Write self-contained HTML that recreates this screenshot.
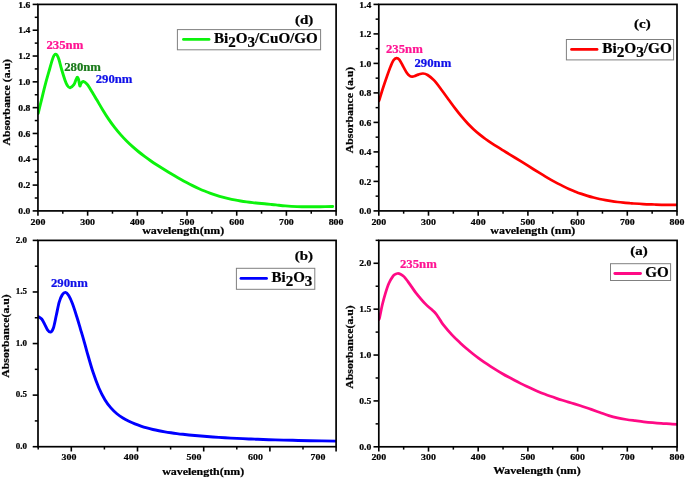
<!DOCTYPE html>
<html><head><meta charset="utf-8"><title>UV-Vis absorbance spectra</title>
<style>
html,body{margin:0;padding:0;background:#fff;}
text{stroke-width:0.22px;paint-order:stroke;}
svg{display:block;will-change:transform;font-family:"Liberation Serif", "Times New Roman", serif;font-weight:bold;}
</style></head><body>
<svg width="685" height="479" viewBox="0 0 685 479">
<rect width="685" height="479" fill="#fff"/>
<clipPath id="cp1"><rect x="37.95" y="4.4" width="298.15000000000003" height="206.5"/></clipPath>
<path clip-path="url(#cp1)" d="M38.20,113.40C38.75,111.13 40.30,104.68 41.50,99.80C42.70,94.92 44.02,89.32 45.40,84.10C46.78,78.88 48.67,72.48 49.80,68.50C50.93,64.52 51.60,62.17 52.20,60.20C52.80,58.23 53.02,57.58 53.40,56.70C53.78,55.82 54.13,55.31 54.50,54.90C54.87,54.49 55.23,54.27 55.60,54.25C55.97,54.23 56.33,54.42 56.70,54.80C57.07,55.17 57.40,55.63 57.80,56.50C58.20,57.37 58.43,57.75 59.10,60.00C59.77,62.25 60.82,66.63 61.80,70.00C62.78,73.37 64.08,77.63 65.00,80.20C65.92,82.77 66.47,84.15 67.30,85.40C68.13,86.65 68.90,87.83 70.00,87.70C71.10,87.57 72.90,85.95 73.90,84.60C74.90,83.25 75.43,80.82 76.00,79.60C76.57,78.38 76.87,77.32 77.30,77.30C77.73,77.28 78.18,78.05 78.60,79.50C79.02,80.95 79.37,85.42 79.80,86.00C80.23,86.58 80.62,83.75 81.20,83.00C81.78,82.25 82.35,81.35 83.30,81.50C84.25,81.65 85.68,82.57 86.90,83.90C88.12,85.23 88.98,86.86 90.60,89.46C92.22,92.07 94.60,96.15 96.60,99.52C98.60,102.89 100.60,106.43 102.60,109.69C104.60,112.96 106.60,116.16 108.60,119.12C110.60,122.07 112.60,124.83 114.60,127.42C116.60,130.01 118.60,132.39 120.60,134.66C122.60,136.93 124.60,139.02 126.60,141.02C128.60,143.02 130.60,144.88 132.60,146.67C134.60,148.46 136.60,150.13 138.60,151.75C140.60,153.37 142.60,154.90 144.60,156.39C146.60,157.88 148.60,159.30 150.60,160.69C152.60,162.09 154.60,163.43 156.60,164.74C158.60,166.06 160.60,167.34 162.60,168.60C164.60,169.85 166.60,171.08 168.60,172.29C170.60,173.50 172.60,174.69 174.60,175.86C176.60,177.02 178.60,178.17 180.60,179.28C182.60,180.40 184.60,181.49 186.60,182.55C188.60,183.60 190.60,184.63 192.60,185.61C194.60,186.60 196.60,187.55 198.60,188.45C200.60,189.35 202.60,190.22 204.60,191.03C206.60,191.85 208.60,192.63 210.60,193.35C212.60,194.08 214.60,194.76 216.60,195.40C218.60,196.03 220.60,196.62 222.60,197.17C224.60,197.71 226.60,198.21 228.60,198.68C230.60,199.14 232.60,199.56 234.60,199.94C236.60,200.33 238.60,200.67 240.60,200.99C242.60,201.31 244.60,201.59 246.60,201.85C248.60,202.11 250.60,202.35 252.60,202.57C254.60,202.80 256.60,203.00 258.60,203.20C260.60,203.41 262.60,203.60 264.60,203.79C266.60,203.99 268.70,204.19 270.60,204.38C272.50,204.56 273.53,204.65 276.00,204.91C278.47,205.16 281.90,205.62 285.40,205.90C288.90,206.18 293.12,206.45 297.00,206.60C300.88,206.75 304.80,206.78 308.70,206.80C312.60,206.82 316.40,206.75 320.40,206.70C324.40,206.65 330.65,206.53 332.70,206.50" fill="none" stroke="#0cf20c" stroke-width="2.9" stroke-linecap="round" stroke-linejoin="round"/>
<rect x="37.95" y="4.4" width="298.15000000000003" height="206.5" fill="none" stroke="#000" stroke-width="1.7"/>
<line x1="32.65" y1="210.90" x2="37.95" y2="210.90" stroke="#000" stroke-width="1.6" stroke-linecap="butt"/>
<text transform="translate(30.35,214.10) scale(1.07,1)" font-size="9.0" text-anchor="end" fill="#000" stroke="#000" >0.0</text>
<line x1="34.75" y1="197.99" x2="37.95" y2="197.99" stroke="#000" stroke-width="1.5" stroke-linecap="butt"/>
<line x1="32.65" y1="185.09" x2="37.95" y2="185.09" stroke="#000" stroke-width="1.6" stroke-linecap="butt"/>
<text transform="translate(30.35,188.29) scale(1.07,1)" font-size="9.0" text-anchor="end" fill="#000" stroke="#000" >0.2</text>
<line x1="34.75" y1="172.18" x2="37.95" y2="172.18" stroke="#000" stroke-width="1.5" stroke-linecap="butt"/>
<line x1="32.65" y1="159.28" x2="37.95" y2="159.28" stroke="#000" stroke-width="1.6" stroke-linecap="butt"/>
<text transform="translate(30.35,162.48) scale(1.07,1)" font-size="9.0" text-anchor="end" fill="#000" stroke="#000" >0.4</text>
<line x1="34.75" y1="146.37" x2="37.95" y2="146.37" stroke="#000" stroke-width="1.5" stroke-linecap="butt"/>
<line x1="32.65" y1="133.46" x2="37.95" y2="133.46" stroke="#000" stroke-width="1.6" stroke-linecap="butt"/>
<text transform="translate(30.35,136.66) scale(1.07,1)" font-size="9.0" text-anchor="end" fill="#000" stroke="#000" >0.6</text>
<line x1="34.75" y1="120.56" x2="37.95" y2="120.56" stroke="#000" stroke-width="1.5" stroke-linecap="butt"/>
<line x1="32.65" y1="107.65" x2="37.95" y2="107.65" stroke="#000" stroke-width="1.6" stroke-linecap="butt"/>
<text transform="translate(30.35,110.85) scale(1.07,1)" font-size="9.0" text-anchor="end" fill="#000" stroke="#000" >0.8</text>
<line x1="34.75" y1="94.75" x2="37.95" y2="94.75" stroke="#000" stroke-width="1.5" stroke-linecap="butt"/>
<line x1="32.65" y1="81.84" x2="37.95" y2="81.84" stroke="#000" stroke-width="1.6" stroke-linecap="butt"/>
<text transform="translate(30.35,85.04) scale(1.07,1)" font-size="9.0" text-anchor="end" fill="#000" stroke="#000" >1.0</text>
<line x1="34.75" y1="68.93" x2="37.95" y2="68.93" stroke="#000" stroke-width="1.5" stroke-linecap="butt"/>
<line x1="32.65" y1="56.03" x2="37.95" y2="56.03" stroke="#000" stroke-width="1.6" stroke-linecap="butt"/>
<text transform="translate(30.35,59.23) scale(1.07,1)" font-size="9.0" text-anchor="end" fill="#000" stroke="#000" >1.2</text>
<line x1="34.75" y1="43.12" x2="37.95" y2="43.12" stroke="#000" stroke-width="1.5" stroke-linecap="butt"/>
<line x1="32.65" y1="30.22" x2="37.95" y2="30.22" stroke="#000" stroke-width="1.6" stroke-linecap="butt"/>
<text transform="translate(30.35,33.42) scale(1.07,1)" font-size="9.0" text-anchor="end" fill="#000" stroke="#000" >1.4</text>
<line x1="34.75" y1="17.31" x2="37.95" y2="17.31" stroke="#000" stroke-width="1.5" stroke-linecap="butt"/>
<line x1="32.65" y1="4.40" x2="37.95" y2="4.40" stroke="#000" stroke-width="1.6" stroke-linecap="butt"/>
<text transform="translate(30.35,7.60) scale(1.07,1)" font-size="9.0" text-anchor="end" fill="#000" stroke="#000" >1.6</text>
<line x1="37.95" y1="210.90" x2="37.95" y2="215.70" stroke="#000" stroke-width="1.6" stroke-linecap="butt"/>
<line x1="62.80" y1="210.90" x2="62.80" y2="213.70" stroke="#000" stroke-width="1.5" stroke-linecap="butt"/>
<line x1="87.64" y1="210.90" x2="87.64" y2="215.70" stroke="#000" stroke-width="1.6" stroke-linecap="butt"/>
<line x1="112.48" y1="210.90" x2="112.48" y2="213.70" stroke="#000" stroke-width="1.5" stroke-linecap="butt"/>
<line x1="137.33" y1="210.90" x2="137.33" y2="215.70" stroke="#000" stroke-width="1.6" stroke-linecap="butt"/>
<line x1="162.18" y1="210.90" x2="162.18" y2="213.70" stroke="#000" stroke-width="1.5" stroke-linecap="butt"/>
<line x1="187.02" y1="210.90" x2="187.02" y2="215.70" stroke="#000" stroke-width="1.6" stroke-linecap="butt"/>
<line x1="211.87" y1="210.90" x2="211.87" y2="213.70" stroke="#000" stroke-width="1.5" stroke-linecap="butt"/>
<line x1="236.71" y1="210.90" x2="236.71" y2="215.70" stroke="#000" stroke-width="1.6" stroke-linecap="butt"/>
<line x1="261.56" y1="210.90" x2="261.56" y2="213.70" stroke="#000" stroke-width="1.5" stroke-linecap="butt"/>
<line x1="286.40" y1="210.90" x2="286.40" y2="215.70" stroke="#000" stroke-width="1.6" stroke-linecap="butt"/>
<line x1="311.25" y1="210.90" x2="311.25" y2="213.70" stroke="#000" stroke-width="1.5" stroke-linecap="butt"/>
<line x1="336.09" y1="210.90" x2="336.09" y2="215.70" stroke="#000" stroke-width="1.6" stroke-linecap="butt"/>
<text transform="translate(37.95,225.10) scale(1.1,1)" font-size="9.0" text-anchor="middle" fill="#000" stroke="#000" >200</text>
<text transform="translate(87.64,225.10) scale(1.1,1)" font-size="9.0" text-anchor="middle" fill="#000" stroke="#000" >300</text>
<text transform="translate(137.33,225.10) scale(1.1,1)" font-size="9.0" text-anchor="middle" fill="#000" stroke="#000" >400</text>
<text transform="translate(187.02,225.10) scale(1.1,1)" font-size="9.0" text-anchor="middle" fill="#000" stroke="#000" >500</text>
<text transform="translate(236.71,225.10) scale(1.1,1)" font-size="9.0" text-anchor="middle" fill="#000" stroke="#000" >600</text>
<text transform="translate(286.40,225.10) scale(1.1,1)" font-size="9.0" text-anchor="middle" fill="#000" stroke="#000" >700</text>
<text transform="translate(336.09,225.10) scale(1.1,1)" font-size="9.0" text-anchor="middle" fill="#000" stroke="#000" >800</text>
<text transform="translate(9.7,102.2) rotate(-90) scale(1.18,1)" font-size="10.0" text-anchor="middle" stroke="#000">Absorbance (a.u)</text>
<text transform="translate(183.20,233.80) scale(1.19,1)" font-size="10.0" text-anchor="middle" fill="#000" stroke="#000" >wavelength(nm)</text>
<text transform="translate(295.00,24.00) scale(1.2,1)" font-size="12.5" text-anchor="start" fill="#000" stroke="#000" >(d)</text>
<rect x="177.4" y="29.6" width="143.2" height="20.2" fill="#fff" stroke="#808080" stroke-width="1"/>
<line x1="183.5" y1="39.4" x2="209" y2="39.4" stroke="#0cf20c" stroke-width="2.9" stroke-linecap="round"/>
<text transform="translate(213.9,43.4) scale(1.04,1)" font-size="14.5" text-anchor="start" stroke="#000">Bi<tspan dy="3.8">2</tspan><tspan dy="-3.8">O</tspan><tspan dy="3.8">3</tspan><tspan dy="-3.8">/CuO/GO</tspan></text>
<text transform="translate(46.50,48.50) scale(1.08,1)" font-size="11.8" text-anchor="start" fill="#ff1493" stroke="#ff1493" >235nm</text>
<text transform="translate(64.20,71.20) scale(1.08,1)" font-size="11.8" text-anchor="start" fill="#1a7a1a" stroke="#1a7a1a" >280nm</text>
<text transform="translate(95.70,83.00) scale(1.08,1)" font-size="11.8" text-anchor="start" fill="#1010e8" stroke="#1010e8" >290nm</text>
<clipPath id="cp2"><rect x="378.8" y="4.4" width="298.2" height="206.5"/></clipPath>
<path clip-path="url(#cp2)" d="M379.00,100.80C379.10,100.50 378.93,101.13 379.60,99.00C380.27,96.87 381.77,91.80 383.00,88.00C384.23,84.20 385.72,79.83 387.00,76.20C388.28,72.57 389.62,68.85 390.70,66.20C391.78,63.55 392.55,61.65 393.50,60.30C394.45,58.95 395.40,58.17 396.40,58.10C397.40,58.03 398.33,58.43 399.50,59.90C400.67,61.37 402.10,64.62 403.40,66.90C404.70,69.18 406.27,72.12 407.30,73.60C408.33,75.08 408.78,75.30 409.60,75.80C410.42,76.30 411.27,76.58 412.20,76.60C413.13,76.62 414.18,76.23 415.20,75.90C416.22,75.57 417.00,75.00 418.30,74.60C419.60,74.20 421.45,73.43 423.00,73.50C424.55,73.57 425.78,73.88 427.60,75.00C429.42,76.12 431.53,77.67 433.90,80.20C436.27,82.73 439.20,86.77 441.80,90.20C444.40,93.63 447.22,97.67 449.50,100.79C451.78,103.91 453.50,106.30 455.50,108.91C457.50,111.52 459.50,114.08 461.50,116.47C463.50,118.86 465.50,121.14 467.50,123.27C469.50,125.39 471.50,127.37 473.50,129.23C475.50,131.08 477.50,132.78 479.50,134.40C481.50,136.03 483.50,137.52 485.50,138.97C487.50,140.42 489.50,141.77 491.50,143.10C493.50,144.43 495.50,145.70 497.50,146.96C499.50,148.23 501.50,149.45 503.50,150.68C505.50,151.91 507.50,153.11 509.50,154.34C511.50,155.56 513.50,156.78 515.50,158.01C517.50,159.24 519.50,160.47 521.50,161.72C523.50,162.96 525.50,164.22 527.50,165.47C529.50,166.73 531.50,167.99 533.50,169.24C535.50,170.49 537.50,171.74 539.50,172.97C541.50,174.19 543.50,175.41 545.50,176.59C547.50,177.78 549.50,178.94 551.50,180.07C553.50,181.19 555.50,182.29 557.50,183.34C559.50,184.39 561.50,185.41 563.50,186.38C565.50,187.35 567.50,188.28 569.50,189.17C571.50,190.05 573.50,190.89 575.50,191.68C577.50,192.47 579.50,193.21 581.50,193.90C583.50,194.60 585.50,195.25 587.50,195.85C589.50,196.45 591.50,197.01 593.50,197.53C595.50,198.04 597.50,198.51 599.50,198.95C601.50,199.39 603.50,199.78 605.50,200.15C607.50,200.51 609.50,200.84 611.50,201.14C613.50,201.45 615.50,201.72 617.50,201.97C619.50,202.22 621.50,202.44 623.50,202.65C625.50,202.85 628.12,203.08 629.50,203.20C630.88,203.32 629.53,203.23 631.80,203.38C634.07,203.53 639.33,203.91 643.10,204.10C646.87,204.29 650.63,204.38 654.40,204.50C658.17,204.62 661.85,204.75 665.70,204.80C669.55,204.85 675.53,204.80 677.50,204.80" fill="none" stroke="#ff0000" stroke-width="2.7" stroke-linecap="round" stroke-linejoin="round"/>
<rect x="378.8" y="4.4" width="298.2" height="206.5" fill="none" stroke="#000" stroke-width="1.7"/>
<line x1="373.50" y1="210.90" x2="378.80" y2="210.90" stroke="#000" stroke-width="1.6" stroke-linecap="butt"/>
<text transform="translate(371.20,214.10) scale(1.07,1)" font-size="9.0" text-anchor="end" fill="#000" stroke="#000" >0.0</text>
<line x1="375.60" y1="196.15" x2="378.80" y2="196.15" stroke="#000" stroke-width="1.5" stroke-linecap="butt"/>
<line x1="373.50" y1="181.40" x2="378.80" y2="181.40" stroke="#000" stroke-width="1.6" stroke-linecap="butt"/>
<text transform="translate(371.20,184.60) scale(1.07,1)" font-size="9.0" text-anchor="end" fill="#000" stroke="#000" >0.2</text>
<line x1="375.60" y1="166.65" x2="378.80" y2="166.65" stroke="#000" stroke-width="1.5" stroke-linecap="butt"/>
<line x1="373.50" y1="151.90" x2="378.80" y2="151.90" stroke="#000" stroke-width="1.6" stroke-linecap="butt"/>
<text transform="translate(371.20,155.10) scale(1.07,1)" font-size="9.0" text-anchor="end" fill="#000" stroke="#000" >0.4</text>
<line x1="375.60" y1="137.15" x2="378.80" y2="137.15" stroke="#000" stroke-width="1.5" stroke-linecap="butt"/>
<line x1="373.50" y1="122.40" x2="378.80" y2="122.40" stroke="#000" stroke-width="1.6" stroke-linecap="butt"/>
<text transform="translate(371.20,125.60) scale(1.07,1)" font-size="9.0" text-anchor="end" fill="#000" stroke="#000" >0.6</text>
<line x1="375.60" y1="107.65" x2="378.80" y2="107.65" stroke="#000" stroke-width="1.5" stroke-linecap="butt"/>
<line x1="373.50" y1="92.90" x2="378.80" y2="92.90" stroke="#000" stroke-width="1.6" stroke-linecap="butt"/>
<text transform="translate(371.20,96.10) scale(1.07,1)" font-size="9.0" text-anchor="end" fill="#000" stroke="#000" >0.8</text>
<line x1="375.60" y1="78.15" x2="378.80" y2="78.15" stroke="#000" stroke-width="1.5" stroke-linecap="butt"/>
<line x1="373.50" y1="63.40" x2="378.80" y2="63.40" stroke="#000" stroke-width="1.6" stroke-linecap="butt"/>
<text transform="translate(371.20,66.60) scale(1.07,1)" font-size="9.0" text-anchor="end" fill="#000" stroke="#000" >1.0</text>
<line x1="375.60" y1="48.65" x2="378.80" y2="48.65" stroke="#000" stroke-width="1.5" stroke-linecap="butt"/>
<line x1="373.50" y1="33.90" x2="378.80" y2="33.90" stroke="#000" stroke-width="1.6" stroke-linecap="butt"/>
<text transform="translate(371.20,37.10) scale(1.07,1)" font-size="9.0" text-anchor="end" fill="#000" stroke="#000" >1.2</text>
<line x1="375.60" y1="19.15" x2="378.80" y2="19.15" stroke="#000" stroke-width="1.5" stroke-linecap="butt"/>
<line x1="373.50" y1="4.40" x2="378.80" y2="4.40" stroke="#000" stroke-width="1.6" stroke-linecap="butt"/>
<text transform="translate(371.20,7.60) scale(1.07,1)" font-size="9.0" text-anchor="end" fill="#000" stroke="#000" >1.4</text>
<line x1="378.80" y1="210.90" x2="378.80" y2="215.70" stroke="#000" stroke-width="1.6" stroke-linecap="butt"/>
<line x1="403.65" y1="210.90" x2="403.65" y2="213.70" stroke="#000" stroke-width="1.5" stroke-linecap="butt"/>
<line x1="428.50" y1="210.90" x2="428.50" y2="215.70" stroke="#000" stroke-width="1.6" stroke-linecap="butt"/>
<line x1="453.35" y1="210.90" x2="453.35" y2="213.70" stroke="#000" stroke-width="1.5" stroke-linecap="butt"/>
<line x1="478.20" y1="210.90" x2="478.20" y2="215.70" stroke="#000" stroke-width="1.6" stroke-linecap="butt"/>
<line x1="503.05" y1="210.90" x2="503.05" y2="213.70" stroke="#000" stroke-width="1.5" stroke-linecap="butt"/>
<line x1="527.90" y1="210.90" x2="527.90" y2="215.70" stroke="#000" stroke-width="1.6" stroke-linecap="butt"/>
<line x1="552.75" y1="210.90" x2="552.75" y2="213.70" stroke="#000" stroke-width="1.5" stroke-linecap="butt"/>
<line x1="577.60" y1="210.90" x2="577.60" y2="215.70" stroke="#000" stroke-width="1.6" stroke-linecap="butt"/>
<line x1="602.45" y1="210.90" x2="602.45" y2="213.70" stroke="#000" stroke-width="1.5" stroke-linecap="butt"/>
<line x1="627.30" y1="210.90" x2="627.30" y2="215.70" stroke="#000" stroke-width="1.6" stroke-linecap="butt"/>
<line x1="652.15" y1="210.90" x2="652.15" y2="213.70" stroke="#000" stroke-width="1.5" stroke-linecap="butt"/>
<line x1="677.00" y1="210.90" x2="677.00" y2="215.70" stroke="#000" stroke-width="1.6" stroke-linecap="butt"/>
<text transform="translate(378.80,225.10) scale(1.1,1)" font-size="9.0" text-anchor="middle" fill="#000" stroke="#000" >200</text>
<text transform="translate(428.50,225.10) scale(1.1,1)" font-size="9.0" text-anchor="middle" fill="#000" stroke="#000" >300</text>
<text transform="translate(478.20,225.10) scale(1.1,1)" font-size="9.0" text-anchor="middle" fill="#000" stroke="#000" >400</text>
<text transform="translate(527.90,225.10) scale(1.1,1)" font-size="9.0" text-anchor="middle" fill="#000" stroke="#000" >500</text>
<text transform="translate(577.60,225.10) scale(1.1,1)" font-size="9.0" text-anchor="middle" fill="#000" stroke="#000" >600</text>
<text transform="translate(627.30,225.10) scale(1.1,1)" font-size="9.0" text-anchor="middle" fill="#000" stroke="#000" >700</text>
<text transform="translate(677.00,225.10) scale(1.1,1)" font-size="9.0" text-anchor="middle" fill="#000" stroke="#000" >800</text>
<text transform="translate(352.6,110.0) rotate(-90) scale(1.18,1)" font-size="10.0" text-anchor="middle" stroke="#000">Absorbance (a.u)</text>
<text transform="translate(532.80,233.80) scale(1.19,1)" font-size="10.0" text-anchor="middle" fill="#000" stroke="#000" >wavelength (nm)</text>
<text transform="translate(634.00,28.00) scale(1.2,1)" font-size="12.5" text-anchor="start" fill="#000" stroke="#000" >(c)</text>
<rect x="566.4" y="39.5" width="107.2" height="20.4" fill="#fff" stroke="#808080" stroke-width="1"/>
<line x1="571.6" y1="49.4" x2="597" y2="49.4" stroke="#ff0000" stroke-width="2.9" stroke-linecap="round"/>
<text transform="translate(602.2,53.4) scale(1.055,1)" font-size="14.5" text-anchor="start" stroke="#000">Bi<tspan dy="3.8">2</tspan><tspan dy="-3.8">O</tspan><tspan dy="3.8">3</tspan><tspan dy="-3.8">/GO</tspan></text>
<text transform="translate(386.00,52.50) scale(1.08,1)" font-size="11.8" text-anchor="start" fill="#ff1493" stroke="#ff1493" >235nm</text>
<text transform="translate(414.50,67.00) scale(1.08,1)" font-size="11.8" text-anchor="start" fill="#1010e8" stroke="#1010e8" >290nm</text>
<clipPath id="cp3"><rect x="38.0" y="240.4" width="298.1" height="206.29999999999998"/></clipPath>
<path clip-path="url(#cp3)" d="M38.30,316.60C38.87,317.00 40.65,317.75 41.70,319.00C42.75,320.25 43.63,322.30 44.60,324.10C45.57,325.90 46.52,328.47 47.50,329.80C48.48,331.13 49.52,332.40 50.50,332.10C51.48,331.80 52.43,330.80 53.40,328.00C54.37,325.20 55.33,319.60 56.30,315.30C57.27,311.00 58.22,305.60 59.20,302.20C60.18,298.80 61.15,296.53 62.20,294.90C63.25,293.27 64.42,292.28 65.50,292.40C66.58,292.52 67.55,293.73 68.70,295.60C69.85,297.47 71.05,300.07 72.40,303.60C73.75,307.13 75.47,312.60 76.80,316.80C78.13,321.00 79.27,325.00 80.40,328.80C81.53,332.60 82.52,335.81 83.60,339.60C84.68,343.39 85.35,346.18 86.90,351.55C88.45,356.92 90.90,365.75 92.90,371.82C94.90,377.88 96.90,383.31 98.90,387.95C100.90,392.59 102.90,396.32 104.90,399.64C106.90,402.97 108.90,405.55 110.90,407.90C112.90,410.25 114.90,412.06 116.90,413.74C118.90,415.43 120.90,416.75 122.90,418.00C124.90,419.25 126.90,420.28 128.90,421.27C130.90,422.25 132.90,423.11 134.90,423.91C136.90,424.72 138.90,425.44 140.90,426.11C142.90,426.78 144.90,427.38 146.90,427.94C148.90,428.50 150.90,429.00 152.90,429.47C154.90,429.94 156.90,430.35 158.90,430.75C160.90,431.14 162.90,431.49 164.90,431.83C166.90,432.17 168.90,432.47 170.90,432.76C172.90,433.05 174.90,433.32 176.90,433.57C178.90,433.83 180.90,434.07 182.90,434.29C184.90,434.52 186.90,434.74 188.90,434.94C190.90,435.15 192.90,435.34 194.90,435.53C196.90,435.72 198.90,435.89 200.90,436.06C202.90,436.23 204.90,436.39 206.90,436.55C208.90,436.70 210.90,436.85 212.90,436.99C214.90,437.13 216.90,437.26 218.90,437.39C220.90,437.51 222.90,437.63 224.90,437.75C226.90,437.87 228.90,437.98 230.90,438.08C232.90,438.19 234.90,438.29 236.90,438.39C238.90,438.49 240.90,438.58 242.90,438.67C244.90,438.76 246.90,438.85 248.90,438.93C250.90,439.02 253.43,439.12 254.90,439.17C256.37,439.23 254.32,439.16 257.70,439.28C261.08,439.40 269.37,439.73 275.20,439.90C281.03,440.07 286.87,440.17 292.70,440.30C298.53,440.43 302.90,440.57 310.20,440.70C317.50,440.83 332.12,441.03 336.50,441.10" fill="none" stroke="#0000ff" stroke-width="2.9" stroke-linecap="round" stroke-linejoin="round"/>
<rect x="38.0" y="240.4" width="298.1" height="206.29999999999998" fill="none" stroke="#000" stroke-width="1.7"/>
<line x1="32.70" y1="446.70" x2="38.00" y2="446.70" stroke="#000" stroke-width="1.6" stroke-linecap="butt"/>
<text transform="translate(27.00,449.00) scale(1.0,1)" font-size="9.0" text-anchor="end" fill="#000" stroke="#000" >0.0</text>
<line x1="34.80" y1="420.91" x2="38.00" y2="420.91" stroke="#000" stroke-width="1.5" stroke-linecap="butt"/>
<line x1="32.70" y1="395.12" x2="38.00" y2="395.12" stroke="#000" stroke-width="1.6" stroke-linecap="butt"/>
<text transform="translate(27.00,397.43) scale(1.0,1)" font-size="9.0" text-anchor="end" fill="#000" stroke="#000" >0.5</text>
<line x1="34.80" y1="369.34" x2="38.00" y2="369.34" stroke="#000" stroke-width="1.5" stroke-linecap="butt"/>
<line x1="32.70" y1="343.55" x2="38.00" y2="343.55" stroke="#000" stroke-width="1.6" stroke-linecap="butt"/>
<text transform="translate(27.00,345.85) scale(1.0,1)" font-size="9.0" text-anchor="end" fill="#000" stroke="#000" >1.0</text>
<line x1="34.80" y1="317.76" x2="38.00" y2="317.76" stroke="#000" stroke-width="1.5" stroke-linecap="butt"/>
<line x1="32.70" y1="291.97" x2="38.00" y2="291.97" stroke="#000" stroke-width="1.6" stroke-linecap="butt"/>
<text transform="translate(27.00,294.27) scale(1.0,1)" font-size="9.0" text-anchor="end" fill="#000" stroke="#000" >1.5</text>
<line x1="34.80" y1="266.19" x2="38.00" y2="266.19" stroke="#000" stroke-width="1.5" stroke-linecap="butt"/>
<line x1="32.70" y1="240.40" x2="38.00" y2="240.40" stroke="#000" stroke-width="1.6" stroke-linecap="butt"/>
<text transform="translate(27.00,242.70) scale(1.0,1)" font-size="9.0" text-anchor="end" fill="#000" stroke="#000" >2.0</text>
<line x1="38.20" y1="446.70" x2="38.20" y2="449.50" stroke="#000" stroke-width="1.5" stroke-linecap="butt"/>
<line x1="71.30" y1="446.70" x2="71.30" y2="451.50" stroke="#000" stroke-width="1.6" stroke-linecap="butt"/>
<line x1="104.40" y1="446.70" x2="104.40" y2="449.50" stroke="#000" stroke-width="1.5" stroke-linecap="butt"/>
<line x1="137.50" y1="446.70" x2="137.50" y2="451.50" stroke="#000" stroke-width="1.6" stroke-linecap="butt"/>
<line x1="170.60" y1="446.70" x2="170.60" y2="449.50" stroke="#000" stroke-width="1.5" stroke-linecap="butt"/>
<line x1="203.70" y1="446.70" x2="203.70" y2="451.50" stroke="#000" stroke-width="1.6" stroke-linecap="butt"/>
<line x1="236.80" y1="446.70" x2="236.80" y2="449.50" stroke="#000" stroke-width="1.5" stroke-linecap="butt"/>
<line x1="269.90" y1="446.70" x2="269.90" y2="451.50" stroke="#000" stroke-width="1.6" stroke-linecap="butt"/>
<line x1="303.00" y1="446.70" x2="303.00" y2="449.50" stroke="#000" stroke-width="1.5" stroke-linecap="butt"/>
<line x1="336.10" y1="446.70" x2="336.10" y2="451.50" stroke="#000" stroke-width="1.6" stroke-linecap="butt"/>
<text transform="translate(69.00,460.30) scale(1.1,1)" font-size="9.0" text-anchor="middle" fill="#000" stroke="#000" >300</text>
<text transform="translate(131.20,460.30) scale(1.1,1)" font-size="9.0" text-anchor="middle" fill="#000" stroke="#000" >400</text>
<text transform="translate(194.00,460.30) scale(1.1,1)" font-size="9.0" text-anchor="middle" fill="#000" stroke="#000" >500</text>
<text transform="translate(255.50,460.30) scale(1.1,1)" font-size="9.0" text-anchor="middle" fill="#000" stroke="#000" >600</text>
<text transform="translate(318.00,460.30) scale(1.1,1)" font-size="9.0" text-anchor="middle" fill="#000" stroke="#000" >700</text>
<text transform="translate(9.4,336.0) rotate(-90) scale(1.18,1)" font-size="10" text-anchor="middle" stroke="#000">Absorbance(a.u)</text>
<text transform="translate(203.20,474.90) scale(1.19,1)" font-size="10.0" text-anchor="middle" fill="#000" stroke="#000" >wavelength(nm)</text>
<text transform="translate(294.70,260.40) scale(1.2,1)" font-size="12.5" text-anchor="start" fill="#000" stroke="#000" >(b)</text>
<rect x="236.4" y="268.3" width="78.4" height="21" fill="#fff" stroke="#808080" stroke-width="1"/>
<line x1="241" y1="278.4" x2="266.5" y2="278.4" stroke="#0000ff" stroke-width="2.9" stroke-linecap="round"/>
<text transform="translate(271.5,282.4) scale(1.035,1)" font-size="14.5" text-anchor="start" stroke="#000">Bi<tspan dy="3.8">2</tspan><tspan dy="-3.8">O</tspan><tspan dy="3.8">3</tspan></text>
<text transform="translate(51.00,286.70) scale(1.08,1)" font-size="11.8" text-anchor="start" fill="#1010e8" stroke="#1010e8" >290nm</text>
<clipPath id="cp4"><rect x="378.8" y="240.4" width="298.3" height="206.4"/></clipPath>
<path clip-path="url(#cp4)" d="M379.00,319.50C379.13,319.03 379.25,319.15 379.80,316.70C380.35,314.25 381.37,308.70 382.30,304.80C383.23,300.90 384.30,296.90 385.40,293.30C386.50,289.70 387.68,285.98 388.90,283.20C390.12,280.42 391.65,278.08 392.70,276.60C393.75,275.12 394.38,274.82 395.20,274.30C396.02,273.78 396.70,273.52 397.60,273.50C398.50,273.48 399.53,273.68 400.60,274.20C401.67,274.72 402.80,275.40 404.00,276.60C405.20,277.80 406.52,279.68 407.80,281.40C409.08,283.12 410.35,285.00 411.70,286.90C413.05,288.80 413.67,290.02 415.90,292.80C418.13,295.58 422.42,300.77 425.10,303.60C427.78,306.43 430.22,308.13 432.00,309.80C433.78,311.47 434.55,312.08 435.80,313.60C437.05,315.12 438.27,317.07 439.50,318.90C440.73,320.73 441.08,321.90 443.20,324.60C445.32,327.30 449.32,332.00 452.20,335.10C455.08,338.20 458.12,340.95 460.50,343.18C462.88,345.42 464.50,346.80 466.50,348.52C468.50,350.24 470.50,351.89 472.50,353.49C474.50,355.08 476.50,356.62 478.50,358.10C480.50,359.58 482.50,361.00 484.50,362.38C486.50,363.76 488.50,365.08 490.50,366.38C492.50,367.67 494.50,368.91 496.50,370.13C498.50,371.35 500.50,372.53 502.50,373.69C504.50,374.85 506.50,375.97 508.50,377.07C510.50,378.18 512.50,379.25 514.50,380.30C516.50,381.36 518.50,382.39 520.50,383.39C522.50,384.39 524.50,385.37 526.50,386.32C528.50,387.28 530.50,388.20 532.50,389.10C534.50,389.99 536.50,390.86 538.50,391.69C540.50,392.52 542.50,393.32 544.50,394.09C546.50,394.86 548.50,395.60 550.50,396.31C552.50,397.02 554.50,397.69 556.50,398.36C558.50,399.02 560.50,399.65 562.50,400.27C564.50,400.89 566.50,401.49 568.50,402.10C570.50,402.71 572.50,403.30 574.50,403.91C576.50,404.52 578.50,405.14 580.50,405.78C582.50,406.42 584.70,407.15 586.50,407.75C588.30,408.36 589.05,408.62 591.30,409.42C593.55,410.21 597.08,411.47 600.00,412.50C602.92,413.53 605.88,414.70 608.80,415.60C611.72,416.50 614.58,417.25 617.50,417.90C620.42,418.55 623.37,419.03 626.30,419.50C629.23,419.97 632.18,420.32 635.10,420.70C638.02,421.08 640.88,421.47 643.80,421.80C646.72,422.13 649.68,422.43 652.60,422.70C655.52,422.97 658.38,423.20 661.30,423.40C664.22,423.60 667.40,423.73 670.10,423.90C672.80,424.07 676.27,424.32 677.50,424.40" fill="none" stroke="#ff0a85" stroke-width="2.75" stroke-linecap="round" stroke-linejoin="round"/>
<rect x="378.8" y="240.4" width="298.3" height="206.4" fill="none" stroke="#000" stroke-width="1.7"/>
<line x1="373.50" y1="446.80" x2="378.80" y2="446.80" stroke="#000" stroke-width="1.6" stroke-linecap="butt"/>
<text transform="translate(371.20,450.00) scale(1.07,1)" font-size="9.0" text-anchor="end" fill="#000" stroke="#000" >0.0</text>
<line x1="375.60" y1="423.86" x2="378.80" y2="423.86" stroke="#000" stroke-width="1.5" stroke-linecap="butt"/>
<line x1="373.50" y1="400.92" x2="378.80" y2="400.92" stroke="#000" stroke-width="1.6" stroke-linecap="butt"/>
<text transform="translate(371.20,404.12) scale(1.07,1)" font-size="9.0" text-anchor="end" fill="#000" stroke="#000" >0.5</text>
<line x1="375.60" y1="377.98" x2="378.80" y2="377.98" stroke="#000" stroke-width="1.5" stroke-linecap="butt"/>
<line x1="373.50" y1="355.04" x2="378.80" y2="355.04" stroke="#000" stroke-width="1.6" stroke-linecap="butt"/>
<text transform="translate(371.20,358.24) scale(1.07,1)" font-size="9.0" text-anchor="end" fill="#000" stroke="#000" >1.0</text>
<line x1="375.60" y1="332.10" x2="378.80" y2="332.10" stroke="#000" stroke-width="1.5" stroke-linecap="butt"/>
<line x1="373.50" y1="309.16" x2="378.80" y2="309.16" stroke="#000" stroke-width="1.6" stroke-linecap="butt"/>
<text transform="translate(371.20,312.36) scale(1.07,1)" font-size="9.0" text-anchor="end" fill="#000" stroke="#000" >1.5</text>
<line x1="375.60" y1="286.22" x2="378.80" y2="286.22" stroke="#000" stroke-width="1.5" stroke-linecap="butt"/>
<line x1="373.50" y1="263.28" x2="378.80" y2="263.28" stroke="#000" stroke-width="1.6" stroke-linecap="butt"/>
<text transform="translate(371.20,266.48) scale(1.07,1)" font-size="9.0" text-anchor="end" fill="#000" stroke="#000" >2.0</text>
<line x1="375.60" y1="240.34" x2="378.80" y2="240.34" stroke="#000" stroke-width="1.5" stroke-linecap="butt"/>
<line x1="378.80" y1="446.80" x2="378.80" y2="451.60" stroke="#000" stroke-width="1.6" stroke-linecap="butt"/>
<line x1="403.65" y1="446.80" x2="403.65" y2="449.60" stroke="#000" stroke-width="1.5" stroke-linecap="butt"/>
<line x1="428.50" y1="446.80" x2="428.50" y2="451.60" stroke="#000" stroke-width="1.6" stroke-linecap="butt"/>
<line x1="453.35" y1="446.80" x2="453.35" y2="449.60" stroke="#000" stroke-width="1.5" stroke-linecap="butt"/>
<line x1="478.20" y1="446.80" x2="478.20" y2="451.60" stroke="#000" stroke-width="1.6" stroke-linecap="butt"/>
<line x1="503.05" y1="446.80" x2="503.05" y2="449.60" stroke="#000" stroke-width="1.5" stroke-linecap="butt"/>
<line x1="527.90" y1="446.80" x2="527.90" y2="451.60" stroke="#000" stroke-width="1.6" stroke-linecap="butt"/>
<line x1="552.75" y1="446.80" x2="552.75" y2="449.60" stroke="#000" stroke-width="1.5" stroke-linecap="butt"/>
<line x1="577.60" y1="446.80" x2="577.60" y2="451.60" stroke="#000" stroke-width="1.6" stroke-linecap="butt"/>
<line x1="602.45" y1="446.80" x2="602.45" y2="449.60" stroke="#000" stroke-width="1.5" stroke-linecap="butt"/>
<line x1="627.30" y1="446.80" x2="627.30" y2="451.60" stroke="#000" stroke-width="1.6" stroke-linecap="butt"/>
<line x1="652.15" y1="446.80" x2="652.15" y2="449.60" stroke="#000" stroke-width="1.5" stroke-linecap="butt"/>
<line x1="677.00" y1="446.80" x2="677.00" y2="451.60" stroke="#000" stroke-width="1.6" stroke-linecap="butt"/>
<text transform="translate(378.80,460.30) scale(1.1,1)" font-size="9.0" text-anchor="middle" fill="#000" stroke="#000" >200</text>
<text transform="translate(428.50,460.30) scale(1.1,1)" font-size="9.0" text-anchor="middle" fill="#000" stroke="#000" >300</text>
<text transform="translate(478.20,460.30) scale(1.1,1)" font-size="9.0" text-anchor="middle" fill="#000" stroke="#000" >400</text>
<text transform="translate(527.90,460.30) scale(1.1,1)" font-size="9.0" text-anchor="middle" fill="#000" stroke="#000" >500</text>
<text transform="translate(577.60,460.30) scale(1.1,1)" font-size="9.0" text-anchor="middle" fill="#000" stroke="#000" >600</text>
<text transform="translate(627.30,460.30) scale(1.1,1)" font-size="9.0" text-anchor="middle" fill="#000" stroke="#000" >700</text>
<text transform="translate(677.00,460.30) scale(1.1,1)" font-size="9.0" text-anchor="middle" fill="#000" stroke="#000" >800</text>
<text transform="translate(353.0,347.0) rotate(-90) scale(1.18,1)" font-size="10" text-anchor="middle" stroke="#000">Absorbance(a.u)</text>
<text transform="translate(536.90,474.30) scale(1.19,1)" font-size="10.0" text-anchor="middle" fill="#000" stroke="#000" >Wavelength (nm)</text>
<text transform="translate(630.20,254.60) scale(1.2,1)" font-size="12.5" text-anchor="start" fill="#000" stroke="#000" >(a)</text>
<rect x="610.5" y="263.7" width="60.1" height="16.8" fill="#fff" stroke="#808080" stroke-width="1"/>
<line x1="614.9" y1="273.5" x2="640.5" y2="273.5" stroke="#ff0a85" stroke-width="2.9" stroke-linecap="round"/>
<text transform="translate(645.2,277.4) scale(1.04,1)" font-size="14.5" text-anchor="start" stroke="#000">GO</text>
<text transform="translate(400.00,267.50) scale(1.08,1)" font-size="11.8" text-anchor="start" fill="#ff1493" stroke="#ff1493" >235nm</text>
</svg>
</body></html>
